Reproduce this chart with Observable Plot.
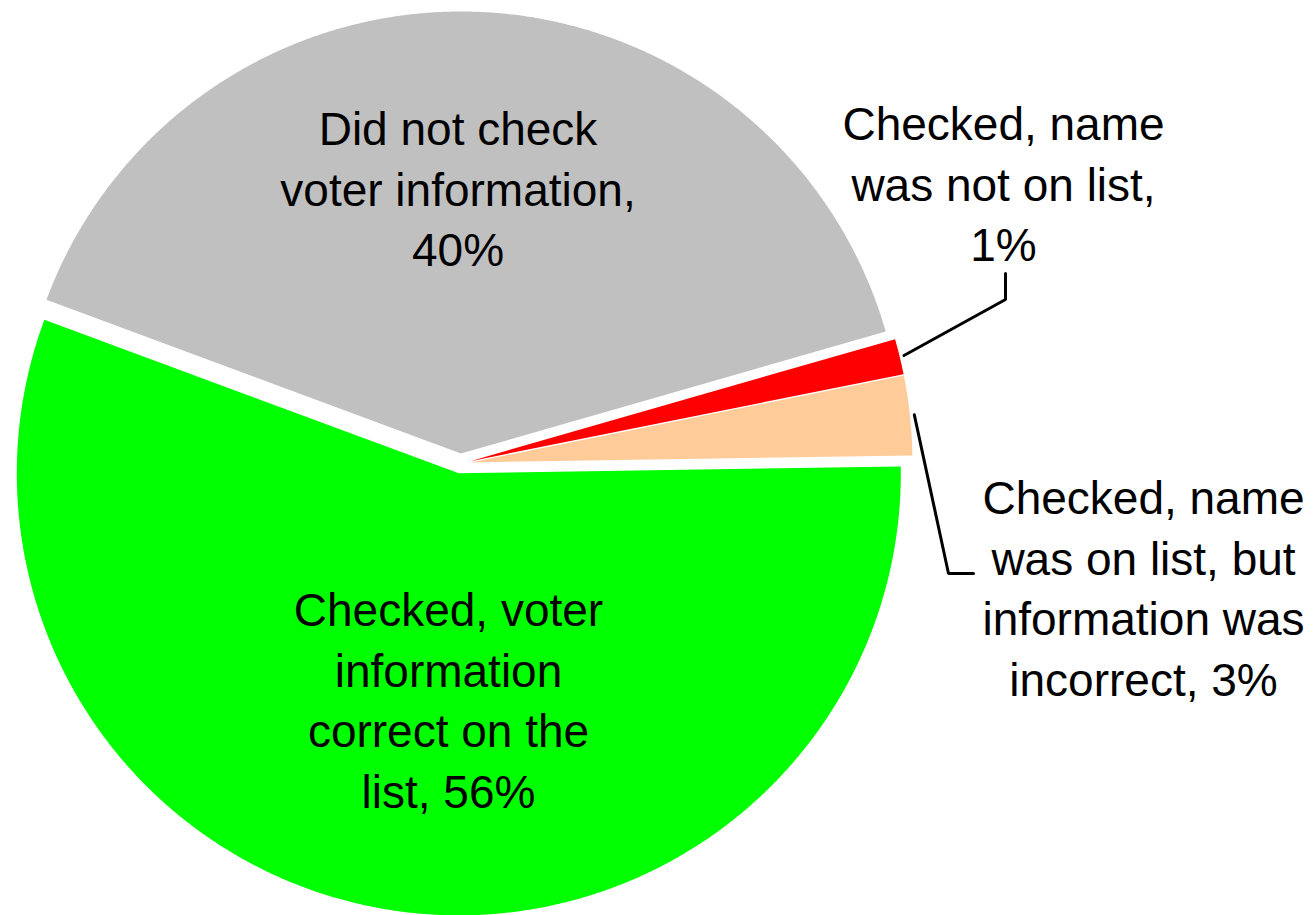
<!DOCTYPE html>
<html><head><meta charset="utf-8">
<script src="https://cdn.jsdelivr.net/npm/d3@7"></script>
<script src="https://cdn.jsdelivr.net/npm/@observablehq/plot@0.6"></script>
<style>html,body{margin:0;padding:0;background:#fff}</style>
</head><body><div id="chart"></div>
<script>
// ---- data ----
const categories = [
  "Checked, voter information correct on the list",
  "Did not check voter information",
  "Checked, name was not on list",
  "Checked, name was on list, but information was incorrect"
];
const values = [55.9, 39.9, 1.3, 2.9];
const labelTexts = [
  "Checked, voter\ninformation\ncorrect on the\nlist, 56%",
  "Did not check\nvoter information,\n40%",
  "Checked, name\nwas not on list,\n1%",
  "Checked, name\nwas on list, but\ninformation was\nincorrect, 3%"
];
const colors = ["#00FF00", "#C0C0C0", "#FF0000", "#FFCC99"];

// ---- layout ----
const W = 1315, H = 915, CX = 460, CY = 463, R = 442;
const EXPLODE = 10 / R;
const START_DEG = 0.9; // math angle where the first slice starts (clockwise sweep)
const pxX = px => (px - CX) / R;
const pxY = py => (CY - py) / R;
const labelPos = [[448, 583], [457.5, 102], [1003, 97], [1143, 471]];
const leaderElbows = {2: [[1005, 299], [1005, 273]], 3: [[948, 573], [973, 573]]};

const start = (90 - START_DEG) * Math.PI / 180;
const arcs = d3.pie().sort(null).value(d => d.value)
  .startAngle(start).endAngle(start + 2 * Math.PI)(
    categories.map((c, i) => ({category: c, value: values[i]}))
  );

const slicePts = [];
const leaderPts = [];
arcs.forEach((a, i) => {
  const mid = (a.startAngle + a.endAngle) / 2;
  const ox = EXPLODE * Math.sin(mid), oy = EXPLODE * Math.cos(mid);
  const c = a.data.category;
  slicePts.push({category: c, x: ox, y: oy});
  const n = Math.max(4, Math.ceil((a.endAngle - a.startAngle) / (0.25 * Math.PI / 180)));
  for (let k = 0; k <= n; k++) {
    const t = a.startAngle + (a.endAngle - a.startAngle) * k / n;
    slicePts.push({category: c, x: ox + Math.sin(t), y: oy + Math.cos(t)});
  }
  if (leaderElbows[i]) {
    leaderPts.push({category: c, x: ox + 1.01 * Math.sin(mid), y: oy + 1.01 * Math.cos(mid)});
    leaderElbows[i].forEach(([px, py]) => leaderPts.push({category: c, x: pxX(px), y: pxY(py)}));
  }
});

const labels = categories.map((c, i) => ({
  category: c, text: labelTexts[i], x: pxX(labelPos[i][0]), y: pxY(labelPos[i][1])
}));

const chart = Plot.plot({
  width: W, height: H, margin: 0,
  style: {fontFamily: "'Liberation Sans', Arial, Helvetica, sans-serif", background: "#fff"},
  x: {domain: [pxX(0), pxX(W)], axis: null},
  y: {domain: [pxY(H), pxY(0)], axis: null},
  color: {domain: categories, range: colors},
  marks: [
    Plot.line(slicePts, {x: "x", y: "y", z: "category", fill: "category", stroke: null, curve: "linear-closed"}),
    Plot.line(leaderPts, {x: "x", y: "y", z: "category", stroke: "black", strokeWidth: 3, fill: "none", strokeLinejoin: "miter"}),
    Plot.text(labels, {x: "x", y: "y", text: "text", lineAnchor: "top", textAnchor: "middle",
      fontSize: 46, lineHeight: 1.315, fill: "black"})
  ]
});
document.getElementById("chart").appendChild(chart);
</script>
</body></html>
